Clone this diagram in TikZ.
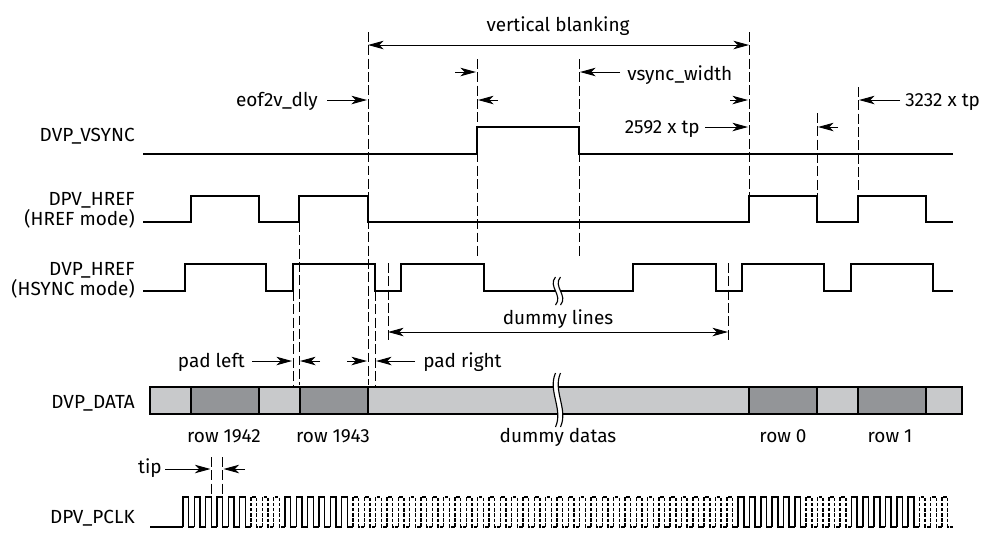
\documentclass[tikz,border=0pt]{standalone}
\usepackage{fontspec}
\setmainfont{Fira Sans}
\usepackage{xcolor}
\usetikzlibrary{arrows.meta, positioning}

\definecolor{datalight}{HTML}{C8C9CB}
\definecolor{datadark}{HTML}{939598}

% break mark: x, top, bottom
\newcommand{\wavebreak}[3]{%
  \fill[white] ({#1-2.5},#2) .. controls ({#1-10.5},{#2+(#3-#2)/3}) and ({#1+5.5},{#2+2*(#3-#2)/3}) .. ({#1-2.5},#3)
    -- ({#1+2.5},#3) .. controls ({#1+10.5},{#2+2*(#3-#2)/3}) and ({#1-5.5},{#2+(#3-#2)/3}) .. ({#1+2.5},#2) -- cycle;
  \draw[line width=0.8pt] ({#1-2.5},#2) .. controls ({#1-10.5},{#2+(#3-#2)/3}) and ({#1+5.5},{#2+2*(#3-#2)/3}) .. ({#1-2.5},#3);
  \draw[line width=0.8pt] ({#1+2.5},#2) .. controls ({#1-5.5},{#2+(#3-#2)/3}) and ({#1+10.5},{#2+2*(#3-#2)/3}) .. ({#1+2.5},#3);
}

\begin{document}
\begin{tikzpicture}[
  x=0.25mm, y=-0.25mm,
  font=\fontsize{13.5}{14.2}\selectfont,
  sig/.style={line width=1.6pt},
  guide/.style={line width=0.7pt, dash pattern=on 7pt off 2.5pt},
  dim/.style={-{Stealth[length=11pt,width=6pt,inset=3pt]}, line width=0.7pt},
  dimboth/.style={{Stealth[length=11pt,width=6pt,inset=3pt]}-{Stealth[length=11pt,width=6pt,inset=3pt]}, line width=0.7pt},
  clkon/.style={line width=1.1pt},
  clkoff/.style={line width=1pt, dash pattern=on 2.5pt off 1.2pt},
  block/.style={draw, line width=1.3pt},
  txt/.style={inner sep=0pt}
]
\useasboundingbox (0,0) rectangle (989,542);

% signal names
\node [txt, anchor=base east] (nvsync) at (135,141) {DVP\_VSYNC};
\node [txt, anchor=base east, align=right] (nhref) at (135,225) {DPV\_HREF\\(HREF mode)};
\node [txt, anchor=base east, align=right] (nhsync) at (135,295) {DVP\_HREF\\(HSYNC mode)};
\node [txt, anchor=base east] (ndata) at (135,408) {DVP\_DATA};
\node [txt, anchor=base east] (npclk) at (135,523) {DPV\_PCLK};

% guide lines
\draw [guide] (368,32) -- (368,385);
\draw [guide] (477,59) -- (477,257);
\draw [guide] (579,59) -- (579,257);
\draw [guide] (749,32) -- (749,196);
\draw [guide] (817,113) -- (817,196);
\draw [guide] (858,87) -- (858,190);
\draw [guide] (388,263) -- (388,343);
\draw [guide] (728,263) -- (728,343);
\draw [guide] (293,291) -- (293,385);
\draw [guide] (299,222) -- (299,385);
\draw [guide] (375,291) -- (375,385);
\draw [guide] (211.3,457) -- (211.3,497);
\draw [guide] (222.7,457) -- (222.7,497);

% waveforms
\draw [sig] (143,154) -| (477,127) -| (579,154) -- (953,154);
\draw [sig] (143,222) -| (191,196) -| (259,222) -| (299,196) -| (368,222)
  -| (749,196) -| (817,222) -| (858,196) -| (926,222) -- (953,222);
\draw [sig] (143,291) -| (185,264) -| (266,291) -| (293,264) -| (375,291)
  -| (401,264) -| (484,291) -| (633,264) -| (716,291) -| (742,264)
  -| (824,291) -| (851,264) -| (933,291) -- (953,291);
\wavebreak{558}{277}{305}

% data bus
\draw [block, fill=datalight] (150,387) rectangle (962,414);
\foreach \l/\r in {191/259, 300/368, 749/817, 858/926}
  \draw [block, fill=datadark] (\l,387) rectangle (\r,414);
\wavebreak{558}{373}{427}
\node [txt, anchor=base] (r1942) at (224,442) {row 1942};
\node [txt, anchor=base] (r1943) at (333,442) {row 1943};
\node [txt, anchor=base] (dummyd) at (558,442) {dummy datas};
\node [txt, anchor=base] (r0) at (783,442) {row 0};
\node [txt, anchor=base] (r1) at (890,442) {row 1};

% pixel clock
\draw [clkon] (150,527) -- (183,527);
\foreach \a/\b/\st in {0/5/clkon, 6/8/clkoff, 9/14/clkon, 15/48/clkoff,
                       49/54/clkon, 55/58/clkoff, 59/64/clkon, 65/67/clkoff}
  \foreach \i in {\a,...,\b}
    \draw [\st] ({183+\i*11.33},527) -- ++(0,-30) -- ++(5.67,0) -- ++(0,30) -- ++(5.67,0);

% dimensions
\draw [dimboth] (368,45) -- (749,45);
\node [txt, anchor=base] (vblank) at (558,31) {vertical blanking};
\node [txt, anchor=base east] (eof) at (318,106) {eof2v\_dly};
\draw [dim] (327,100) -- (367,100);
\draw [dim] (455,72) -- (476,72);
\draw [dim] (498,100) -- (478,100);
\node [txt, anchor=base west] (vsw) at (627,80) {vsync\_width};
\draw [dim] (620,72) -- (580,72);
\draw [dim] (730,100) -- (748,100);
\node [txt, anchor=base east] (t2592) at (700,133) {2592 x tp};
\draw [dim] (705,127) -- (748,127);
\draw [dim] (838,127) -- (818,127);
\node [txt, anchor=base west] (t3232) at (905,106) {3232 x tp};
\draw [dim] (900,100) -- (859,100);
\draw [dimboth] (388,332) -- (728,332);
\node [txt, anchor=base] (dlines) at (558,324) {dummy lines};
\node [txt, anchor=base east] (padl) at (245,367) {pad left};
\draw [dim] (252,361) -- (292,361);
\draw [dim] (320,361) -- (300,361);
\draw [dim] (347,361) -- (367,361);
\node [txt, anchor=base west] (padr) at (423,367) {pad right};
\draw [dim] (415,361) -- (376,361);
\node [txt, anchor=base east] (tip) at (162,473) {tip};
\draw [dim] (165,469) -- (210.5,469);
\draw [dim] (245,469) -- (223.5,469);
\end{tikzpicture}
\end{document}
